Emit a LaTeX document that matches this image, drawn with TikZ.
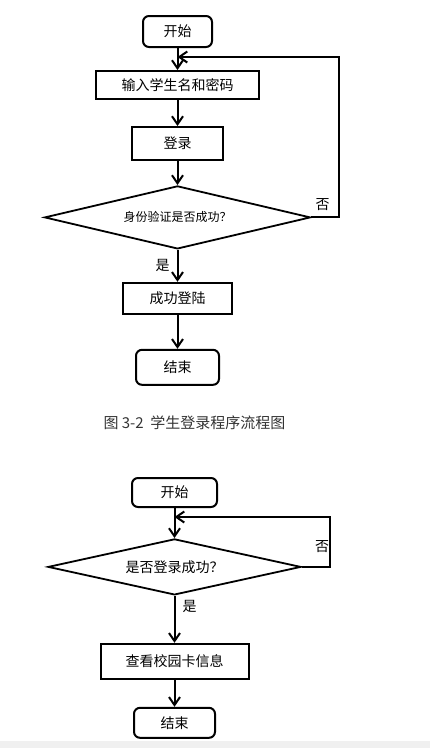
\documentclass[tikz,border=0pt]{standalone}
\usepackage{fontspec}
\setmainfont{Noto Sans CJK SC}
\usetikzlibrary{
  arrows.meta,
  shapes.geometric,
  positioning
}
\tikzset{
  terminal/.style={
    rectangle, rounded corners=6pt, draw, line width=2pt,
    inner sep=0pt, align=center, font=\fontsize{14}{16}\selectfont
  },
  block/.style={
    rectangle, draw, line width=2pt,
    inner sep=0pt, align=center, font=\fontsize{14}{16}\selectfont
  },
  decision/.style={
    diamond, draw, line width=1.8pt, aspect=4,
    inner sep=0pt, align=center, font=\fontsize{14}{16}\selectfont
  },
  arrow/.style={-{Straight Barb[length=8pt,width=11pt]}, line width=2pt},
  lbl/.style={inner sep=0pt, font=\fontsize{14}{16}\selectfont},
  caption/.style={inner sep=0pt, text=black!80, font=\fontsize{15}{17}\selectfont}
}
\begin{document}
\begin{tikzpicture}[x=1pt, y=1pt]

\useasboundingbox (0,0) rectangle (430,-748);
\fill[black!6] (0,-741) rectangle (430,-748);

% Student login flow
\node[terminal, minimum width=69pt, minimum height=31pt] (start1) at (177.5,-31.5) {开始};
\node[block, below=22pt of start1, minimum width=163pt, minimum height=28pt] (input) {输入学生名和密码};
\node[block, below=26pt of input, minimum width=91pt, minimum height=33pt] (login) {登录};
\node[decision, below=24pt of login, minimum width=266pt, minimum height=63pt,
  font=\fontsize{12}{14}\selectfont] (check1) {身份验证是否成功？};
\node[block, below=32pt of check1, minimum width=109pt, minimum height=31pt] (success) {成功登陆};
\node[terminal, below=34pt of success, minimum width=83pt, minimum height=35pt] (end1) {结束};

\coordinate[below=9pt of start1] (join1);
\draw[arrow] (start1) -- (input);
\draw[arrow] (input) -- (login);
\draw[arrow] (login) -- (check1);
\draw[arrow] (check1) -- node[lbl, midway, left=7pt] {是} (success);
\draw[arrow] (success) -- (end1);
\draw[arrow] (check1.east) -- ++(28,0) |- (join1);
\node[lbl, above right=7pt and 4pt of check1.east] (no1) {否};

% Caption
\node[caption] (cap) at (194.5,-423) {图 3-2\ \ 学生登录程序流程图};

% Campus card flow
\node[terminal, minimum width=85pt, minimum height=29pt] (start2) at (174.5,-492.5) {开始};
\node[decision, below=30pt of start2, minimum width=253pt, minimum height=56pt] (check2) {是否登录成功？};
\node[block, below=47pt of check2, minimum width=148pt, minimum height=35pt] (view) {查看校园卡信息};
\node[terminal, below=27pt of view, minimum width=81pt, minimum height=30pt] (end2) {结束};

\coordinate[below=9pt of start2] (join2);
\draw[arrow] (start2) -- (check2);
\draw[arrow] (check2) -- (view);
\draw[arrow] (view) -- (end2);
\draw[arrow] (check2.east) -- ++(28,0) |- (join2);
\node[lbl, below right=4pt and 8pt of check2.south] (yes2) {是};
\node[lbl, above right=14pt and 13pt of check2.east] (no2) {否};

\end{tikzpicture}
\end{document}
